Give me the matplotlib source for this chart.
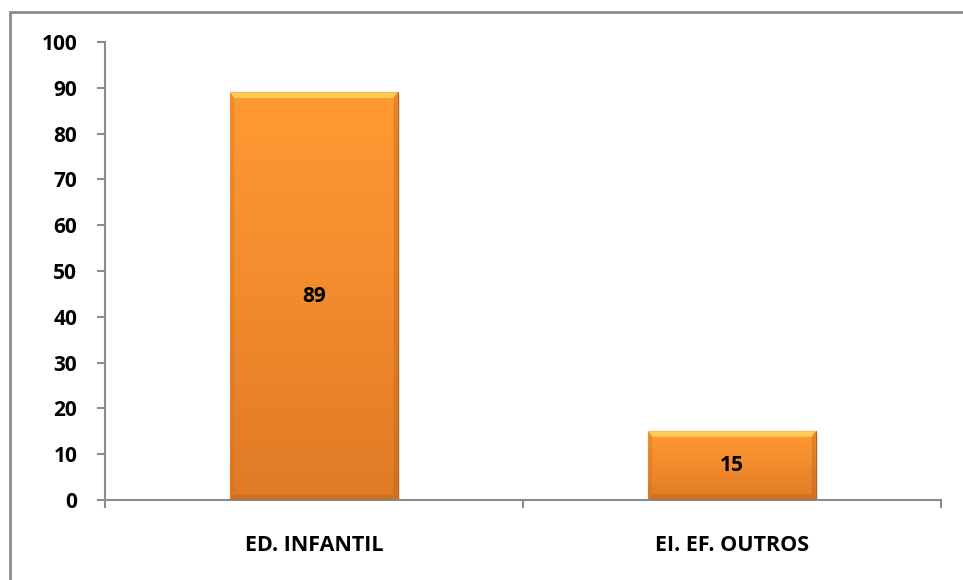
import matplotlib.pyplot as plt
import numpy as np
from matplotlib.patches import Rectangle, Polygon
from matplotlib.colors import LinearSegmentedColormap

categories = ["ED. INFANTIL", "EI. EF. OUTROS"]
values = [89, 15]
yticks = [0, 10, 20, 30, 40, 50, 60, 70, 80, 90, 100]

plt.rcParams['font.family'] = ['Open Sans', 'DejaVu Sans']
plt.rcParams['font.weight'] = 'bold'

fig = plt.figure(figsize=(9.63, 5.80), dpi=100)
ax = fig.add_axes([105 / 963, 80 / 580, 836 / 963, 458 / 580])

# outer chart frame (runs off the right and bottom edges)
fig.patches.append(Rectangle((10 / 963, -0.1), 1.2, 1 - 12 / 580 + 0.1,
                             transform=fig.transFigure, fill=False,
                             edgecolor="#8c8c8c", linewidth=2, zorder=0))

x = np.arange(len(categories))
width = 0.4
bars = ax.bar(x, values, width=width, color="#f7922e", edgecolor="#b8641c",
              linewidth=0.8, zorder=2)

grad = LinearSegmentedColormap.from_list("orng", ["#e07a26", "#f28b2d", "#ff9a33"])
for b in bars:
    x0, y0 = b.get_x(), b.get_y()
    w, h = b.get_width(), b.get_height()
    # soft drop shadow
    ax.add_patch(Rectangle((x0 + 0.006, y0), w, h - 0.5, color="#000000",
                           alpha=0.10, zorder=1, linewidth=0))
    img = ax.imshow(np.linspace(0, 1, 256).reshape(-1, 1), cmap=grad,
                    extent=(x0, x0 + w, y0, y0 + h), origin="lower",
                    aspect="auto", zorder=2.5)
    img.set_clip_path(b)
    # bevel edges
    bx, by = 0.009, 1.2
    ax.add_patch(Polygon([(x0, y0 + h), (x0 + w, y0 + h), (x0 + w - bx, y0 + h - by),
                          (x0 + bx, y0 + h - by)], color="#ffd25e", alpha=0.9,
                         linewidth=0, zorder=3))
    ax.add_patch(Polygon([(x0, y0), (x0 + w, y0), (x0 + w - bx, y0 + by),
                          (x0 + bx, y0 + by)], color="#b5621c", alpha=0.4,
                         linewidth=0, zorder=3))
    ax.add_patch(Polygon([(x0 + w, y0), (x0 + w, y0 + h), (x0 + w - bx, y0 + h - by),
                          (x0 + w - bx, y0 + by)], color="#b5621c", alpha=0.4,
                         linewidth=0, zorder=3))
    ax.add_patch(Polygon([(x0, y0), (x0, y0 + h), (x0 + bx, y0 + h - by),
                          (x0 + bx, y0 + by)], color="#d0711f", alpha=0.35,
                         linewidth=0, zorder=3))
    ax.text(b.get_x() + w / 2, h / 2, f"{int(h)}", ha="center", va="center",
            fontsize=15, fontweight="bold", color="black", zorder=4)

ax.set_xlim(-0.5, len(categories) - 0.5)
ax.set_ylim(0, 100)
ax.set_yticks(yticks)
ax.set_yticklabels([str(t) for t in yticks], fontsize=15, fontweight="bold")

# category labels sit between boundary ticks
ax.set_xticks(np.arange(len(categories) + 1) - 0.5)
ax.set_xticklabels([])
ax.set_xticks(x, minor=True)
ax.set_xticklabels(categories, minor=True, fontsize=15.5, fontweight="bold")
ax.tick_params(axis="x", which="minor", length=0, pad=25)
ax.tick_params(axis="x", which="major", length=6, width=1.5, color="#8c8c8c")
ax.tick_params(axis="y", length=6, width=1.5, color="#8c8c8c", pad=14)

for s in ["top", "right"]:
    ax.spines[s].set_visible(False)
for s in ["left", "bottom"]:
    ax.spines[s].set_color("#8c8c8c")
    ax.spines[s].set_linewidth(1.5)

fig.savefig("out.png", dpi=100)
